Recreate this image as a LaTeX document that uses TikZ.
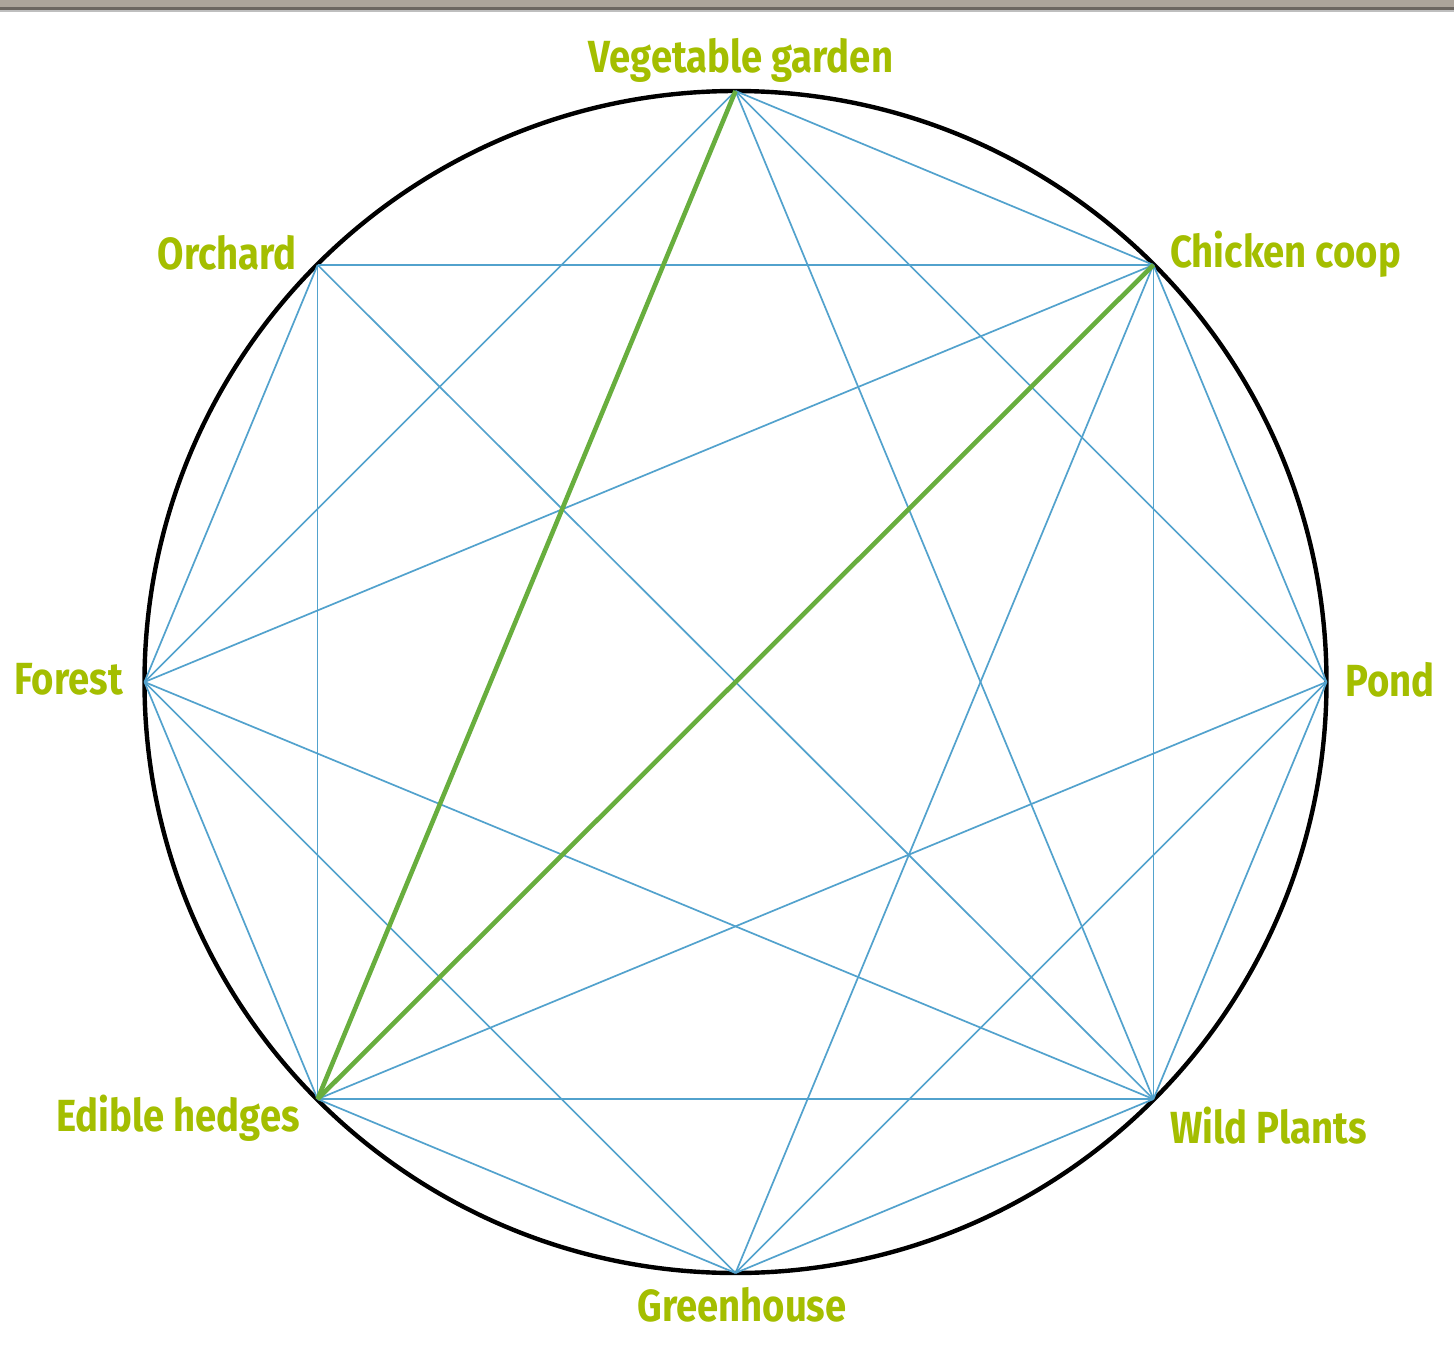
\documentclass[tikz,border=0pt]{standalone}
\usepackage{fontspec}
\setmainfont{Fira Sans}[FakeStretch=0.85]
\usepackage{xcolor}
\usepackage{tikz}
\usetikzlibrary{positioning}

\definecolor{linkblue}{RGB}{82,162,205}
\definecolor{linkgreen}{RGB}{104,174,62}
\definecolor{labelgreen}{RGB}{164,190,0}
\definecolor{stripgray}{RGB}{172,164,154}
\definecolor{stripdark}{RGB}{108,102,96}

\begin{document}
\begin{tikzpicture}[
  x=1pt,y=-1pt,
  ring/.style={draw=black,line width=4.4pt},
  link/.style={draw=linkblue,line width=1.7pt},
  keylink/.style={draw=linkgreen,line width=4.6pt},
  place/.style={text=labelgreen,font=\fontsize{45}{50}\selectfont\bfseries,inner sep=0pt}
]
\useasboundingbox (0,0) rectangle (1454,1346);
\fill[white] (0,0) rectangle (1454,1346);
% top strip
\fill[stripgray] (0,0) rectangle (1454,9);
\fill[stripdark] (0,7) rectangle (1454,10);
\fill[black!25] (0,10) rectangle (1454,12);

% points on the circle
\coordinate (ctr) at (735.5,682);
\coordinate (veg) at (735.5,91);
\coordinate (coop) at (1153.4,264.9);
\coordinate (pond) at (1326.5,682);
\coordinate (wild) at (1153.4,1099.1);
\coordinate (green) at (735.5,1273);
\coordinate (hedge) at (317.6,1099.1);
\coordinate (forest) at (144.5,682);
\coordinate (orch) at (317.6,264.9);

\draw[ring] (ctr) circle (591);

% connections
\draw[link] (veg) -- (forest);
\draw[link] (veg) -- (wild);
\draw[link] (veg) -- (coop);
\draw[link] (veg) -- (pond);
\draw[link] (orch) -- (coop);
\draw[link] (orch) -- (hedge);
\draw[link] (orch) -- (forest);
\draw[link] (orch) -- (wild);
\draw[link] (coop) -- (forest);
\draw[link] (coop) -- (green);
\draw[link] (coop) -- (wild);
\draw[link] (coop) -- (pond);
\draw[link] (pond) -- (hedge);
\draw[link] (pond) -- (green);
\draw[link] (pond) -- (wild);
\draw[link] (wild) -- (forest);
\draw[link] (wild) -- (hedge);
\draw[link] (wild) -- (green);
\draw[link] (green) -- (hedge);
\draw[link] (green) -- (forest);
\draw[link] (hedge) -- (forest);
\draw[keylink] (veg) -- (hedge);
\draw[keylink] (coop) -- (hedge);

% labels
\node[place,anchor=base] (vegl) at (741,73) {Vegetable garden};
\node[place,anchor=base west] (coopl) at (1170,267) {Chicken coop};
\node[place,anchor=base east] (orchl) at (297,269) {Orchard};
\node[place,anchor=base east] (forestl) at (123,694) {Forest};
\node[place,anchor=base west] (pondl) at (1345,696) {Pond};
\node[place,anchor=base east] (hedgel) at (300,1131) {Edible hedges};
\node[place,anchor=base west] (wildl) at (1170,1143) {Wild Plants};
\node[place,anchor=base] (greenl) at (742,1321) {Greenhouse};
\end{tikzpicture}
\end{document}
